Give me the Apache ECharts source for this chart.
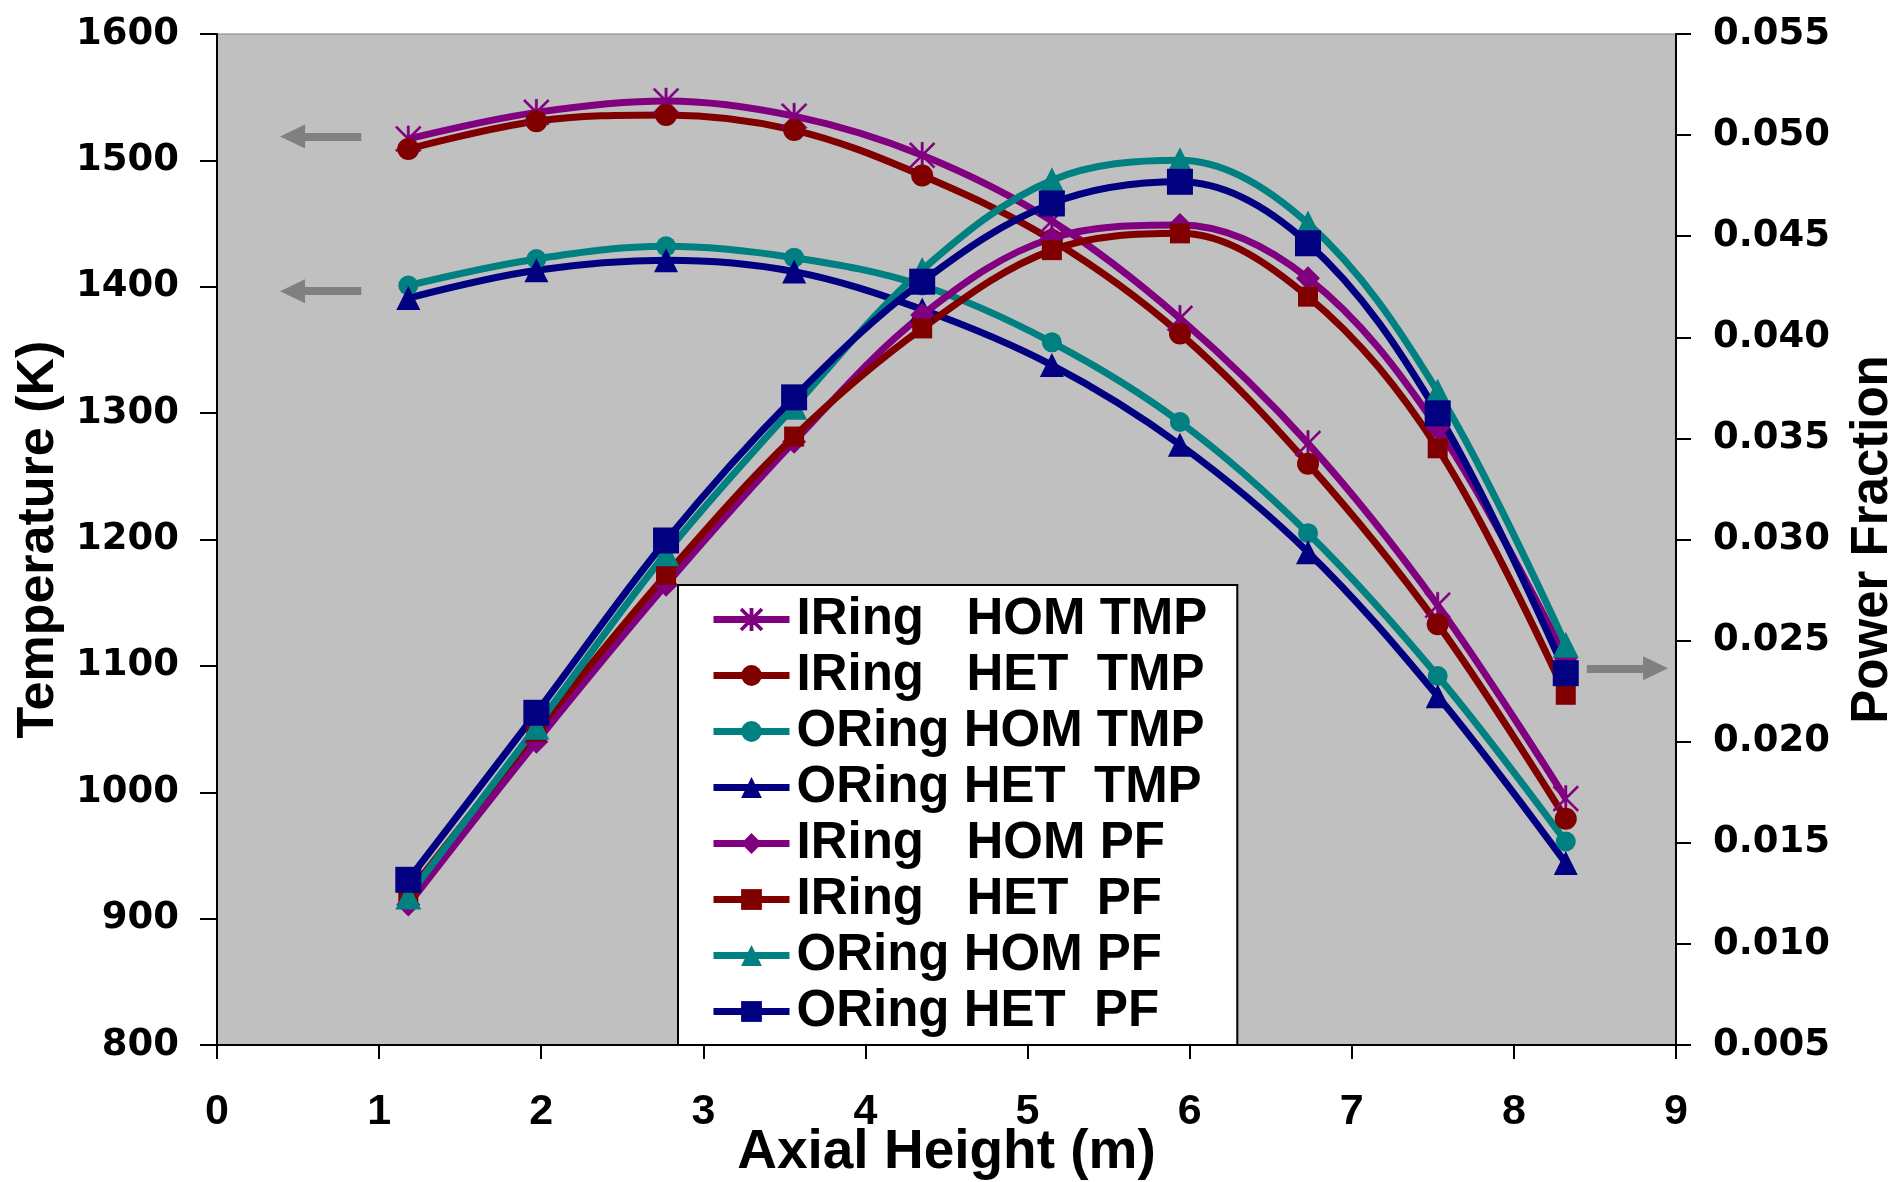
<!DOCTYPE html>
<html>
<head>
<meta charset="utf-8">
<script src="https://cdn.jsdelivr.net/npm/echarts@6/dist/echarts.min.js"></script>
<style>
html,body{margin:0;padding:0;background:#fff;}
#chart{width:1895px;height:1182px;}
</style>
</head>
<body>
<div id="chart"></div>
<script>
// Axial heights (m)
const axialHeight = [1.18, 1.97, 2.77, 3.56, 4.35, 5.15, 5.94, 6.73, 7.53, 8.32];

// Temperatures (K) - left axis
const iRingHomTmp = [1517, 1538, 1547, 1535, 1504, 1452, 1375, 1276, 1148, 995];
const iRingHetTmp = [1509, 1531, 1536, 1524, 1488, 1437, 1363, 1260, 1133, 979];
const oRingHomTmp = [1401, 1422, 1432, 1423, 1401, 1356, 1293, 1205, 1092, 961];
const oRingHetTmp = [1391, 1413, 1421, 1412, 1382, 1338, 1275, 1190, 1076, 944];

// Power fractions - right axis
const iRingHomPf = [0.01195, 0.0200, 0.02776, 0.03484, 0.0411, 0.0449, 0.04555, 0.04292, 0.0355, 0.02413];
const iRingHetPf = [0.0125, 0.0205, 0.02825, 0.03509, 0.04044, 0.04431, 0.04514, 0.04201, 0.03451, 0.02232];
const oRingHomPf = [0.01235, 0.02074, 0.02932, 0.03657, 0.04333, 0.04777, 0.04876, 0.04563, 0.03731, 0.02479];
const oRingHetPf = [0.01317, 0.02143, 0.02995, 0.03703, 0.04275, 0.04662, 0.04769, 0.04465, 0.03624, 0.02339];

const seriesNames = [
  'IRing   HOM TMP', 'IRing   HET  TMP', 'ORing HOM TMP', 'ORing HET  TMP',
  'IRing   HOM PF', 'IRing   HET  PF', 'ORing HOM PF', 'ORing HET  PF'
];

// Annotation arrows (data coords): [xFrom, xTo, y]
const tmpArrows = [[0.89, 0.466, 1518.8], [0.89, 0.466, 1396.5]];
const pfArrow = [8.45, 8.874, 0.02363];

const PURPLE = '#800080', MAROON = '#800000', TEAL = '#008080', NAVY = '#000080';
const ASTERISK = 'path://M-0.9,-10L0.9,-10L0.9,10L-0.9,10Z M-10,-8.8L-8.8,-10L10,8.8L8.8,10Z M8.8,-10L10,-8.8L-8.8,10L-10,8.8Z';
const ARROW_HEAD = 'path://M5,0L10,10L0,10Z';
const LINE_W = 7;

function pairs(ys) { return axialHeight.map((x, i) => [x, ys[i]]); }

const sansBold = '"Liberation Sans", Arial, sans-serif';

function mk(name, data, color, symbol, size, yIdx, extra) {
  return Object.assign({
    name: name, type: 'line', data: pairs(data), yAxisIndex: yIdx,
    smooth: 0.35,
    symbol: symbol, symbolSize: size, showAllSymbol: true,
    lineStyle: { color: color, width: LINE_W, type: 'solid' },
    itemStyle: { color: color, borderColor: color, borderWidth: symbol === ASTERISK ? 0.5 : 0 },
    emphasis: { disabled: true },
    animation: false
  }, extra || {});
}

const arrowLine = { color: '#808080', width: 8, type: 'solid' };

const series = [
  mk(seriesNames[0], iRingHomTmp, PURPLE, ASTERISK, 26, 0, {
    markLine: {
      silent: true, animation: false,
      symbol: ['none', ARROW_HEAD], symbolSize: [24, 25],
      label: { show: false }, lineStyle: arrowLine,
      data: tmpArrows.map(a => [{ coord: [a[0], a[2]] }, { coord: [a[1], a[2]] }])
    }
  }),
  mk(seriesNames[1], iRingHetTmp, MAROON, 'circle', 22, 0),
  mk(seriesNames[2], oRingHomTmp, TEAL, 'circle', 20, 0),
  mk(seriesNames[3], oRingHetTmp, NAVY, 'triangle', 24, 0),
  mk(seriesNames[4], iRingHomPf, PURPLE, 'diamond', 24, 1, {
    markLine: {
      silent: true, animation: false,
      symbol: ['none', ARROW_HEAD], symbolSize: [24, 25],
      label: { show: false }, lineStyle: arrowLine,
      data: [[{ coord: [pfArrow[0], pfArrow[2]] }, { coord: [pfArrow[1], pfArrow[2]] }]]
    }
  }),
  mk(seriesNames[5], iRingHetPf, MAROON, 'rect', 20, 1),
  mk(seriesNames[6], oRingHomPf, TEAL, 'triangle', 26, 1),
  mk(seriesNames[7], oRingHetPf, NAVY, 'rect', 26, 1)
];

const chart = echarts.init(document.getElementById('chart'), null, { renderer: 'canvas' });
chart.setOption({
  animation: false,
  backgroundColor: '#ffffff',
  grid: {
    left: 217, right: 219, top: 34, bottom: 137,
    show: true, backgroundColor: '#C0C0C0', borderColor: '#808080', borderWidth: 1,
    containLabel: false, outerBoundsMode: 'none'
  },
  legend: {
    orient: 'vertical', left: 678, top: 585,
    data: seriesNames,
    itemWidth: 76, itemHeight: 26, itemGap: 5,
    padding: [9, 30, 8, 32],
    backgroundColor: '#ffffff', borderColor: '#000000', borderWidth: 2, borderRadius: 0,
    lineStyle: { width: LINE_W },
    textStyle: { fontFamily: sansBold, fontWeight: 'bold', fontSize: 51, color: '#000', padding: [0, 0, 0, 2] },
    selectedMode: false
  },
  xAxis: {
    type: 'value', min: 0, max: 9, interval: 1,
    name: 'Axial Height (m)', nameLocation: 'middle', nameGap: 80, nameMoveOverlap: false,
    nameTextStyle: { fontFamily: sansBold, fontWeight: 'bold', fontSize: 55, color: '#000' },
    axisLine: { show: true, onZero: false, lineStyle: { color: '#000', width: 2 } },
    axisTick: { show: true, inside: false, length: 14, lineStyle: { color: '#000', width: 2 } },
    axisLabel: { margin: 46, fontFamily: sansBold, fontWeight: 'bold', fontSize: 43, color: '#000' },
    splitLine: { show: false }
  },
  yAxis: [
    {
      type: 'value', min: 800, max: 1600, interval: 100, position: 'left',
      name: 'Temperature (K)', nameLocation: 'middle', nameRotate: 90, nameGap: 134,
      nameTextStyle: { fontFamily: sansBold, fontWeight: 'bold', fontSize: 52, color: '#000' },
      axisLine: { show: true, lineStyle: { color: '#000', width: 2 } },
      axisTick: { show: true, inside: false, length: 17, lineStyle: { color: '#000', width: 2 } },
      axisLabel: {
        margin: 38, fontFamily: '"DejaVu Sans", sans-serif', fontWeight: 'bold', fontSize: 37, color: '#000',
        formatter: v => String(v)
      },
      splitLine: { show: false }
    },
    {
      type: 'value', min: 0.005, max: 0.055, interval: 0.005, position: 'right',
      name: 'Power Fraction', nameLocation: 'middle', nameRotate: 90, nameGap: 171,
      nameTextStyle: { fontFamily: sansBold, fontWeight: 'bold', fontSize: 51, color: '#000' },
      axisLine: { show: true, lineStyle: { color: '#000', width: 2 } },
      axisTick: { show: true, inside: false, length: 15, lineStyle: { color: '#000', width: 2 } },
      axisLabel: {
        margin: 37, fontFamily: '"DejaVu Sans", sans-serif', fontWeight: 'bold', fontSize: 37, color: '#000',
        formatter: v => v.toFixed(3)
      },
      splitLine: { show: false }
    }
  ],
  series: series
});
</script>
</body>
</html>
